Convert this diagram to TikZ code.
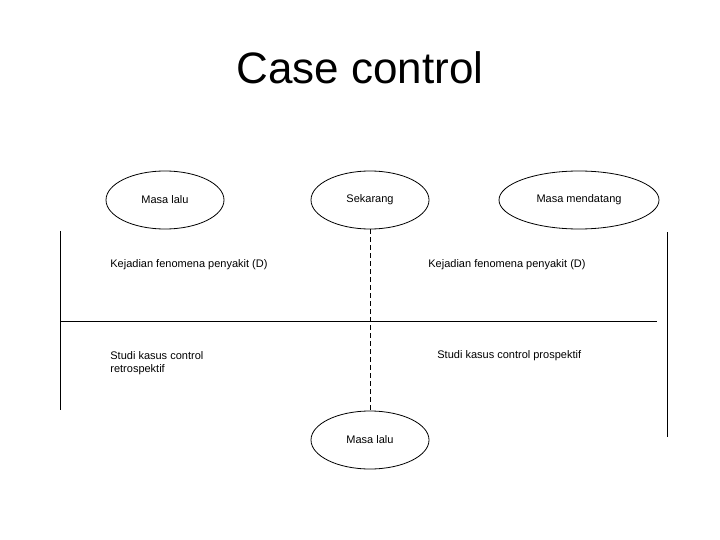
\documentclass[tikz,border=0pt]{standalone}
\usepackage{fontspec}
\setmainfont{Liberation Sans}
\usetikzlibrary{shapes.geometric}
\begin{document}
\begin{tikzpicture}[x=1pt,y=-1pt,semithick,line width=0.8pt]
  \tikzstyle{time}=[ellipse,draw,minimum width=118pt,minimum height=58pt,inner sep=0pt,font=\fontsize{11}{13}\selectfont]
  \tikzstyle{txt}=[anchor=west,inner sep=0pt,font=\fontsize{11}{13}\selectfont,align=left]
  \useasboundingbox (0,0) rectangle (720,540);

  \node at (360,68) {\fontsize{44}{50}\selectfont Case control};

  \node[time] (past)   at (165,200) {Masa lalu};
  \node[time] (now)    at (370,200) {Sekarang};
  \node[time,minimum width=160pt] (future) at (579,200) {Masa mendatang};
  \node[time] (past2)  at (370,440) {Masa lalu};

  \node[txt] (kl) at (110,265) {Kejadian fenomena penyakit (D)};
  \node[txt] (kr) at (428,265) {Kejadian fenomena penyakit (D)};
  \node[txt] (sl) at (110,363) {Studi kasus control\\retrospektif};
  \node[txt] (sr) at (437,356) {Studi kasus control prospektif};

  \coordinate (lt) at (60,231);  \coordinate (lb) at (60,410);
  \coordinate (rt) at (667,232); \coordinate (rb) at (667,437);
  \coordinate (hl) at (60,321);  \coordinate (hr) at (657,321);

  \draw (lt) -- (lb);
  \draw (rt) -- (rb);
  \draw (hl) -- (hr);
  \draw[dashed,dash pattern=on 5pt off 3pt] (now.south) -- (past2.north);
\end{tikzpicture}
\end{document}
